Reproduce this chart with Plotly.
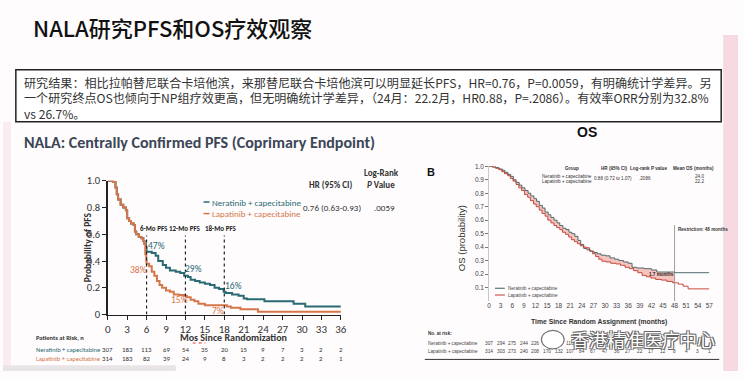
import plotly.graph_objects as go

W, H = 744, 378

# ---------------- DATA ----------------
pfs_ticks = list(range(0, 37, 3))
pfs_ner_t = [0, 0.8, 1.2, 1.4, 1.6, 2.0, 2.4, 2.8, 3.0, 3.3, 3.6, 4.0, 4.2, 4.4, 4.8, 5.2, 5.5, 5.7, 5.9, 6.0,
             6.8, 7.4, 7.8, 8.5, 9.0, 9.6, 10.5, 11.2, 11.8, 12.4, 12.8, 13.5, 14.2, 15.0, 15.8, 16.5, 17.2,
             17.9, 18.2, 19.2, 20.2, 21.0, 21.5, 24.2, 28.7, 30.5, 36]
pfs_ner_s = [1.0, 0.99, 0.95, 0.90, 0.86, 0.82, 0.80, 0.78, 0.72, 0.70, 0.68, 0.67, 0.62, 0.60, 0.58, 0.57, 0.55,
             0.53, 0.50, 0.47, 0.46, 0.44, 0.40, 0.37, 0.35, 0.33, 0.32, 0.31, 0.29, 0.28, 0.26, 0.25, 0.24, 0.23,
             0.22, 0.20, 0.19, 0.17, 0.16, 0.15, 0.14, 0.12, 0.115, 0.10, 0.08, 0.06, 0.06]
pfs_lap_t = [0, 0.8, 1.2, 1.4, 1.6, 2.0, 2.4, 2.8, 3.0, 3.3, 3.6, 4.0, 4.2, 4.4, 4.8, 5.2, 5.5, 5.6, 5.8, 5.95,
             6.0, 6.4, 6.8, 7.2, 7.6, 8.0, 8.4, 9.0, 9.6, 10.2, 11.0, 11.8, 12.2, 12.8, 13.4, 14.0, 15.0, 18.4,
             19.0, 20.5, 23.2, 36]
pfs_lap_s = [1.0, 0.99, 0.95, 0.90, 0.86, 0.82, 0.80, 0.78, 0.72, 0.70, 0.68, 0.67, 0.62, 0.60, 0.58, 0.57, 0.55,
             0.53, 0.45, 0.40, 0.38, 0.36, 0.32, 0.29, 0.25, 0.22, 0.20, 0.18, 0.17, 0.15, 0.145, 0.14, 0.13, 0.11,
             0.10, 0.08, 0.07, 0.06, 0.05, 0.04, 0.02, 0.02]
pfs_ner_risk = [307, 183, 113, 69, 54, 35, 20, 15, 9, 7, 3, 2, 2]
pfs_lap_risk = [314, 183, 82, 39, 24, 9, 8, 3, 2, 2, 2, 2, 1]
pfs_marks = [6, 12, 18]
pfs_ner_pct = ["47%", "29%", "16%"]
pfs_lap_pct = ["38%", "15%", "7%"]

os_ticks = list(range(0, 58, 3))
os_ner_t = [0, 0.9, 1.8, 2.6, 3.4, 4.1, 4.9, 5.6, 6.3, 7.0, 7.8, 8.5, 9.3, 10.1, 10.8, 11.6, 12.3, 13.0, 13.8,
            14.5, 15.3, 16.0, 16.8, 17.6, 18.3, 19.1, 19.9, 20.7, 21.4, 22.2, 23.0, 23.7, 24.5, 25.3, 26.2, 27.1,
            28.0, 29.0, 30.2, 31.3, 32.5, 33.6, 34.8, 36.0, 37.0, 38.2, 40.1, 42.0, 43.4, 48, 57]
os_ner_s = [1.0, 0.995, 0.99, 0.98, 0.97, 0.955, 0.94, 0.925, 0.90, 0.88, 0.86, 0.84, 0.82, 0.80, 0.78, 0.76, 0.74,
            0.71, 0.69, 0.66, 0.64, 0.62, 0.60, 0.58, 0.56, 0.54, 0.53, 0.51, 0.50, 0.48, 0.45, 0.42, 0.39, 0.38,
            0.37, 0.36, 0.35, 0.34, 0.335, 0.32, 0.31, 0.30, 0.29, 0.28, 0.25, 0.245, 0.24, 0.23, 0.215, 0.21, 0.21]
os_lap_t = [0, 0.8, 1.7, 2.5, 3.3, 4.0, 4.8, 5.5, 6.2, 7.0, 7.7, 8.4, 9.2, 10.0, 10.7, 11.5, 12.2, 13.0, 13.7,
            14.5, 15.2, 16.0, 16.8, 17.5, 18.3, 19.0, 19.8, 20.6, 21.3, 22.1, 22.9, 23.6, 24.4, 25.2, 26.0, 26.8,
            27.6, 28.4, 29.2, 30.3, 31.5, 32.8, 34.0, 35.2, 36.3, 37.4, 38.5, 39.6, 40.7, 41.9, 43.1, 44.6, 46.0,
            47.5, 49.0, 50.2, 51.5, 57]
os_lap_s = [1.0, 0.995, 0.985, 0.975, 0.96, 0.945, 0.93, 0.91, 0.89, 0.865, 0.84, 0.82, 0.79, 0.77, 0.745, 0.72,
            0.70, 0.675, 0.65, 0.63, 0.60, 0.58, 0.56, 0.545, 0.53, 0.51, 0.495, 0.475, 0.455, 0.44, 0.425, 0.41,
            0.40, 0.395, 0.37, 0.35, 0.33, 0.31, 0.295, 0.29, 0.28, 0.275, 0.265, 0.25, 0.24, 0.225, 0.21, 0.19,
            0.18, 0.17, 0.16, 0.155, 0.145, 0.135, 0.125, 0.11, 0.09, 0.09]
os_restriction = 48
os_ner_risk = [307, 294, 275, 244, 226, None, None, 110, None, None, None, None, None, None, None, None, None,
               None, None, None]
os_lap_risk = [314, 303, 273, 240, 208, 170, 132, 107, 84, 67, 47, 36, 27, 22, 17, 12, 8, 4, 3, 1]

title_text = "NALA研究PFS和OS疗效观察"
box_lines = [
    "研究结果：相比拉帕替尼联合卡培他滨，来那替尼联合卡培他滨可以明显延长PFS，HR=0.76，P=0.0059，有明确统计学差异。另",
    "一个研究终点OS也倾向于NP组疗效更高，但无明确统计学差异，（24月：22.2月，HR0.88，P=.2086）。有效率ORR分别为32.8%",
    "vs 26.7%。",
]

# ---------------- STYLE ----------------
TEAL = "#2a6a73"
ORANGE = "#d5754a"
OS_NER = "#3e5c60"
OS_LAP = "#c0392b"
CAL = "Carlito, Liberation Sans Narrow, Arial Narrow, Liberation Sans, sans-serif"
NAR = "Liberation Sans Narrow, Arial Narrow, Liberation Sans, sans-serif"
CJK = "Noto Sans CJK SC, sans-serif"


def px(x):
    return x / W


def py(y):
    return 1 - y / H


fig = go.Figure()

# PFS curves
fig.add_trace(go.Scatter(x=pfs_ner_t, y=pfs_ner_s, mode="lines", line=dict(color=TEAL, width=2, shape="hv"),
                         xaxis="x", yaxis="y", showlegend=False, hoverinfo="skip"))
fig.add_trace(go.Scatter(x=pfs_lap_t, y=pfs_lap_s, mode="lines", line=dict(color=ORANGE, width=2, shape="hv"),
                         xaxis="x", yaxis="y", showlegend=False, hoverinfo="skip"))

# OS shaded difference (up to restriction)
lap_cut_t = [t for t in os_lap_t if t < os_restriction] + [os_restriction]
lap_cut_s = [s for t, s in zip(os_lap_t, os_lap_s) if t < os_restriction]
lap_cut_s = lap_cut_s + [lap_cut_s[-1]]
ner_cut_t = [t for t in os_ner_t if t < os_restriction] + [os_restriction]
ner_cut_s = [s for t, s in zip(os_ner_t, os_ner_s) if t < os_restriction]
ner_cut_s = ner_cut_s + [ner_cut_s[-1]]
fig.add_trace(go.Scatter(x=lap_cut_t, y=lap_cut_s, mode="lines", line=dict(width=0, shape="hv"),
                         xaxis="x2", yaxis="y2", showlegend=False, hoverinfo="skip"))
fig.add_trace(go.Scatter(x=ner_cut_t, y=ner_cut_s, mode="lines", line=dict(width=0, shape="hv"),
                         fill="tonexty", fillcolor="rgba(236,150,140,0.55)",
                         xaxis="x2", yaxis="y2", showlegend=False, hoverinfo="skip"))
fig.add_trace(go.Scatter(x=os_ner_t, y=os_ner_s, mode="lines", line=dict(color=OS_NER, width=0.9, shape="hv"),
                         xaxis="x2", yaxis="y2", showlegend=False, hoverinfo="skip"))
fig.add_trace(go.Scatter(x=os_lap_t, y=os_lap_s, mode="lines", line=dict(color=OS_LAP, width=0.9, shape="hv"),
                         xaxis="x2", yaxis="y2", showlegend=False, hoverinfo="skip"))

fig.update_layout(
    width=W, height=H, margin=dict(l=0, r=0, t=0, b=0),
    paper_bgcolor="#fefcfd", plot_bgcolor="rgba(0,0,0,0)",
    xaxis=dict(domain=[px(106), px(342)], range=[0, 36], anchor="y", tickvals=pfs_ticks,
               showline=True, linecolor="#222", linewidth=1.5, ticks="outside", ticklen=4, tickcolor="#222",
               showgrid=False, zeroline=False, tickfont=dict(family=CAL, size=11, color="#333")),
    yaxis=dict(domain=[py(319.5), py(181)], range=[0, 1.0], anchor="x", tickvals=[0, 0.2, 0.4, 0.6, 0.8, 1.0],
               ticktext=["0", "0.2", "0.4", "0.6", "0.8", "1.0"],
               showline=True, linecolor="#222", linewidth=1.5, ticks="outside", ticklen=4, tickcolor="#222",
               showgrid=False, zeroline=False, tickfont=dict(family=CAL, size=10.5, color="#333")),
    xaxis2=dict(domain=[px(492), px(715)], range=[0, 57], anchor="y2", tickvals=os_ticks,
                showline=False, ticks="", showgrid=False, zeroline=False,
                tickfont=dict(family=NAR, size=6.5, color="#444")),
    yaxis2=dict(domain=[py(305.5), py(166)], range=[0, 1.0], anchor="x2",
                tickvals=[0.1, 0.2, 0.3, 0.4, 0.5, 0.6, 0.7, 0.8, 0.9, 1.0],
                ticktext=["0.1", "0.2", "0.3", "0.4", "0.5", "0.6", "0.7", "0.8", "0.9", "1.0"],
                showline=True, linecolor="#bbb", linewidth=0.8, ticks="outside", ticklen=3, tickcolor="#777",
                showgrid=False, zeroline=False, tickfont=dict(family=NAR, size=6.5, color="#444")),
)

shapes = []
ann = []

# background decorations
shapes.append(dict(type="rect", xref="paper", yref="paper", x0=px(729), x1=1, y0=0, y1=py(30),
                   fillcolor="#f6d9e1", line=dict(width=0), layer="below"))
shapes.append(dict(type="rect", xref="paper", yref="paper", x0=0, x1=px(8), y0=0, y1=py(120),
                   fillcolor="#fbecf0", line=dict(width=0), layer="below"))
shapes.append(dict(type="rect", xref="paper", yref="paper", x0=0, x1=px(175), y0=0, y1=py(372),
                   fillcolor="#e9e5e7", line=dict(width=0), layer="below"))

# Title
ann.append(dict(x=px(28), y=py(22), xref="paper", yref="paper", text=title_text, showarrow=False,
                xanchor="left", yanchor="middle", font=dict(family=CJK, size=22, color="#111", weight=500)))

# Text box
shapes.append(dict(type="rect", xref="paper", yref="paper", x0=px(13), x1=px(727), y0=py(120), y1=py(66),
                   fillcolor="white", line=dict(color="#222", width=1.5)))
for i, line in enumerate(box_lines):
    ann.append(dict(x=px(19), y=py(79 + i * 16), xref="paper", yref="paper", text=line, showarrow=False,
                    xanchor="left", yanchor="middle", font=dict(family=CJK, size=12.1, color="#333")))

# PFS header
ann.append(dict(x=px(19), y=py(141), xref="paper", yref="paper",
                text="<b>NALA: Centrally Confirmed PFS (Coprimary Endpoint)</b>", showarrow=False,
                xanchor="left", yanchor="middle", font=dict(family=CAL, size=16, color="#3b4656")))
ann.append(dict(x=px(591), y=py(130), xref="paper", yref="paper", text="<b>OS</b>", showarrow=False,
                xanchor="center", yanchor="middle", font=dict(family="Liberation Sans, sans-serif", size=14,
                                                                color="#111")))

# PFS legend
for i, (lab, col) in enumerate([("Neratinib + capecitabine", TEAL), ("Lapatinib + capecitabine", ORANGE)]):
    yy = 203 + i * 12
    shapes.append(dict(type="line", xref="paper", yref="paper", x0=px(203), x1=px(209), y0=py(yy), y1=py(yy),
                       line=dict(color=col, width=1.5)))
    ann.append(dict(x=px(210), y=py(yy), xref="paper", yref="paper", text=lab, showarrow=False,
                    xanchor="left", yanchor="middle", font=dict(family=CAL, size=9, color=col)))

# HR / P-value block
hf = dict(family=CAL, size=9, color="#333")
ann.append(dict(x=px(332), y=py(185), xref="paper", yref="paper", text="<b>HR (95% CI)</b>", showarrow=False,
                xanchor="center", yanchor="middle", font=hf))
ann.append(dict(x=px(383), y=py(172), xref="paper", yref="paper", text="<b>Log-Rank</b>", showarrow=False,
                xanchor="center", yanchor="middle", font=hf))
ann.append(dict(x=px(383), y=py(185), xref="paper", yref="paper", text="<b><i>P</i> Value</b>", showarrow=False,
                xanchor="center", yanchor="middle", font=hf))
ann.append(dict(x=px(333), y=py(209), xref="paper", yref="paper", text="0.76 (0.63-0.93)", showarrow=False,
                xanchor="center", yanchor="middle", font=hf))
ann.append(dict(x=px(386), y=py(209), xref="paper", yref="paper", text=".0059", showarrow=False,
                xanchor="center", yanchor="middle", font=hf))

# PFS landmark lines and labels
lab_x = {6: 7.2, 12: 11.9, 18: 17.5}
for m in pfs_marks:
    shapes.append(dict(type="line", xref="x", yref="y", x0=m, x1=m, y0=0, y1=0.59,
                       line=dict(color="#222", width=1.2, dash="dot")))
    ann.append(dict(x=lab_x[m], y=0.645, xref="x", yref="y", text="<b>%d-Mo PFS</b>" % m,
                    showarrow=False, xanchor="center", yanchor="middle",
                    font=dict(family=CAL, size=7, color="#222")))
ner_pos = [(7.5, 0.516), (13.3, 0.338), (19.4, 0.213)]
lap_pos = [(4.8, 0.336), (11.1, 0.105), (17.0, 0.025)]
for (x, y), t in zip(ner_pos, pfs_ner_pct):
    ann.append(dict(x=x, y=y, xref="x", yref="y", text=t, showarrow=False, xanchor="center", yanchor="middle",
                    font=dict(family=CAL, size=9.5, color=TEAL)))
for (x, y), t in zip(lap_pos, pfs_lap_pct):
    ann.append(dict(x=x, y=y, xref="x", yref="y", text=t, showarrow=False, xanchor="center", yanchor="middle",
                    font=dict(family=CAL, size=9.5, color=ORANGE)))

# PFS axis titles
ann.append(dict(x=px(86), y=py(250), xref="paper", yref="paper", text="<b>Probability of PFS</b>",
                showarrow=False, textangle=-90, xanchor="center", yanchor="middle",
                font=dict(family=CAL, size=9.5, color="#333")))
ann.append(dict(x=px(233), y=py(343), xref="paper", yref="paper", text="<b>Mos Since Randomization</b>",
                showarrow=False, xanchor="center", yanchor="middle", font=dict(family=CAL, size=10, color="#333")))
shapes.append(dict(type="line", xref="paper", yref="paper", x0=px(192), x1=px(205), y0=py(349), y1=py(349),
                   line=dict(color="#d04040", width=1, dash="dot")))

# PFS at-risk table
ann.append(dict(x=px(31), y=py(344), xref="paper", yref="paper", text="<b>Patients at Risk, n</b>",
                showarrow=False, xanchor="left", yanchor="middle", font=dict(family=CAL, size=6.5, color="#333")))
for lab, col, vals, yy in [("Neratinib + capecitabine", TEAL, pfs_ner_risk, 356),
                           ("Lapatinib + capecitabine", ORANGE, pfs_lap_risk, 365.5)]:
    ann.append(dict(x=px(31), y=py(yy), xref="paper", yref="paper", text=lab, showarrow=False,
                    xanchor="left", yanchor="middle", font=dict(family=CAL, size=6.5, color=col)))
    for m, v in zip(pfs_ticks, vals):
        ann.append(dict(x=m, y=py(yy), xref="x", yref="paper", text=str(v), showarrow=False,
                        xanchor="center", yanchor="middle", font=dict(family=CAL, size=6.8, color="#333")))

# OS panel label
ann.append(dict(x=px(433), y=py(172), xref="paper", yref="paper", text="<b>B</b>", showarrow=False,
                xanchor="center", yanchor="middle", font=dict(family="Liberation Sans, sans-serif", size=11,
                                                                color="#111")))
# OS table
tf = dict(family=NAR, size=4.6, color="#333")
ann.append(dict(x=px(576), y=py(168), xref="paper", yref="paper", text="<b>Group</b>", showarrow=False,
                xanchor="center", yanchor="middle", font=tf))
ann.append(dict(x=px(619), y=py(168), xref="paper", yref="paper", text="<b>HR (95% CI)</b>", showarrow=False,
                xanchor="center", yanchor="middle", font=tf))
ann.append(dict(x=px(653), y=py(168), xref="paper", yref="paper", text="<b>Log-rank P value</b>", showarrow=False,
                xanchor="center", yanchor="middle", font=tf))
ann.append(dict(x=px(699), y=py(168), xref="paper", yref="paper", text="<b>Mean OS (months)</b>", showarrow=False,
                xanchor="center", yanchor="middle", font=tf))
ann.append(dict(x=px(598), y=py(176.5), xref="paper", yref="paper", text="Neratinib + capecitabine",
                showarrow=False, xanchor="right", yanchor="middle", font=tf))
ann.append(dict(x=px(598), y=py(182), xref="paper", yref="paper", text="Lapatinib + capecitabine",
                showarrow=False, xanchor="right", yanchor="middle", font=tf))
ann.append(dict(x=px(617), y=py(179), xref="paper", yref="paper", text="0.88 (0.72 to 1.07)",
                showarrow=False, xanchor="center", yanchor="middle", font=tf))
ann.append(dict(x=px(650), y=py(179), xref="paper", yref="paper", text=".2086",
                showarrow=False, xanchor="center", yanchor="middle", font=tf))
ann.append(dict(x=px(705), y=py(176.5), xref="paper", yref="paper", text="24.0",
                showarrow=False, xanchor="center", yanchor="middle", font=tf))
ann.append(dict(x=px(705), y=py(182), xref="paper", yref="paper", text="22.2",
                showarrow=False, xanchor="center", yanchor="middle", font=tf))

# restriction line
shapes.append(dict(type="line", xref="x2", yref="paper", x0=os_restriction, x1=os_restriction,
                   y0=py(305.5), y1=py(227), line=dict(color="#888", width=0.8)))
ann.append(dict(x=os_restriction, y=py(231.5), xref="x2", yref="paper", text="<b>Restriction: 48 months</b>",
                showarrow=False, xanchor="left", yanchor="middle", xshift=1,
                font=dict(family=NAR, size=4.6, color="#333")))
ann.append(dict(x=44.5, y=0.195, xref="x2", yref="y2", text="<b>1.7 months</b>", showarrow=False,
                xanchor="center", yanchor="middle", font=dict(family=NAR, size=4.6, color="#222")))

# OS legend
for i, (lab, col) in enumerate([("Neratinib + capecitabine", OS_NER), ("Lapatinib + capecitabine", OS_LAP)]):
    yy = 292.3 + i * 7
    shapes.append(dict(type="line", xref="paper", yref="paper", x0=px(498), x1=px(508), y0=py(yy), y1=py(yy),
                       line=dict(color=col, width=1)))
    ann.append(dict(x=px(509), y=py(yy), xref="paper", yref="paper", text=lab, showarrow=False,
                    xanchor="left", yanchor="middle", font=dict(family=NAR, size=4.6, color="#444")))

# OS axis titles
ann.append(dict(x=px(464), y=py(240), xref="paper", yref="paper", text="OS (probability)", showarrow=False,
                textangle=-90, xanchor="center", yanchor="middle", font=dict(family=NAR, size=9.5, color="#333")))
ann.append(dict(x=px(603), y=py(327), xref="paper", yref="paper", text="<b>Time Since Random Assignment (months)</b>",
                showarrow=False, xanchor="center", yanchor="middle", font=dict(family=NAR, size=6.8, color="#333")))

# OS at-risk table
ann.append(dict(x=px(428), y=py(339), xref="paper", yref="paper", text="<b>No. at risk:</b>", showarrow=False,
                xanchor="left", yanchor="middle", font=dict(family=NAR, size=4.6, color="#333")))
for lab, vals, yy in [("Neratinib + capecitabine", os_ner_risk, 349.5),
                      ("Lapatinib + capecitabine", os_lap_risk, 357.5)]:
    ann.append(dict(x=px(428), y=py(yy), xref="paper", yref="paper", text=lab, showarrow=False,
                    xanchor="left", yanchor="middle", font=dict(family=NAR, size=4.6, color="#444")))
    for m, v in zip(os_ticks, vals):
        if v is None:
            continue
        ann.append(dict(x=m, y=py(yy), xref="x2", yref="paper", text=str(v), showarrow=False,
                        xanchor="center", yanchor="middle", font=dict(family=NAR, size=4.8, color="#444")))
shapes.append(dict(type="line", xref="paper", yref="paper", x0=px(427), x1=px(725), y0=py(366), y1=py(366),
                   line=dict(color="#333", width=1)))

# watermark
shapes.append(dict(type="circle", xref="paper", yref="paper", x0=px(545), x1=px(568), y0=py(355), y1=py(336),
                   fillcolor="rgba(255,255,255,0.9)", line=dict(color="#777", width=1.2)))
ann.append(dict(x=px(648), y=py(345), xref="paper", yref="paper", text="香港精准医疗中心", showarrow=False,
                xanchor="center", yanchor="middle",
                font=dict(family=CJK, size=18, color="#ffffff",
                          shadow="1px 1px 0 #666, -1px -1px 0 #666, 1px -1px 0 #666, -1px 1px 0 #666")))

fig.update_layout(shapes=shapes, annotations=ann)
fig.write_html("out.html", config={"displayModeBar": False, "staticPlot": True},
               post_script="document.body.style.margin='0';document.body.style.overflow='hidden';")
